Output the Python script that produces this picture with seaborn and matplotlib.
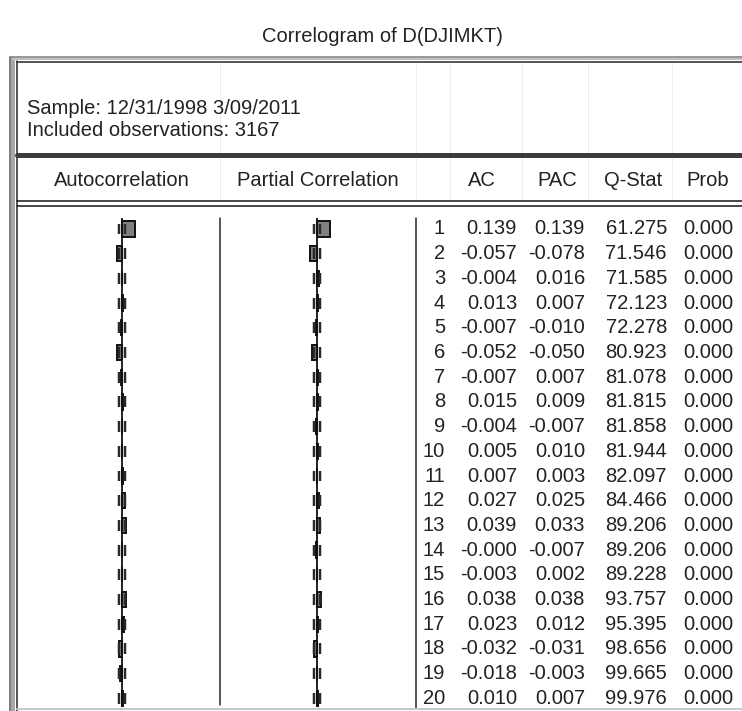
import matplotlib
matplotlib.use("Agg")
import matplotlib.pyplot as plt
import seaborn as sns
import pandas as pd
import numpy as np

# --- correlogram values ---
lags = list(range(1, 21))
ac = [0.139, -0.057, -0.004, 0.013, -0.007, -0.052, -0.007, 0.015, -0.004, 0.005,
      0.007, 0.027, 0.039, -0.000, -0.003, 0.038, 0.023, -0.032, -0.018, 0.010]
pac = [0.139, -0.078, 0.016, 0.007, -0.010, -0.050, 0.007, 0.009, -0.007, 0.010,
       0.003, 0.025, 0.033, -0.007, 0.002, 0.038, 0.012, -0.031, -0.003, 0.007]
q_stat = [61.275, 71.546, 71.585, 72.123, 72.278, 80.923, 81.078, 81.815, 81.858, 81.944,
          82.097, 84.466, 89.206, 89.206, 89.228, 93.757, 95.395, 98.656, 99.665, 99.976]
prob = [0.000, 0.000, 0.000, 0.000, 0.000, 0.000, 0.000, 0.000, 0.000, 0.000,
        0.000, 0.000, 0.000, 0.000, 0.000, 0.000, 0.000, 0.000, 0.000, 0.000]
n_obs = 3167
title = "Correlogram of D(DJIMKT)"
sample_line = "Sample: 12/31/1998 3/09/2011"
obs_line = f"Included observations: {n_obs}"
headers = ["Autocorrelation", "Partial Correlation", "AC", "PAC", "Q-Stat", "Prob"]

df = pd.DataFrame({"lag": [str(l) for l in lags], "ac": ac, "pac": pac})
order = df["lag"].tolist()
se2 = 2 / np.sqrt(n_obs)

sns.set_theme(style="white")
plt.rcParams['font.family'] = ['Liberation Sans', 'DejaVu Sans']
FS = 14.5
TXT = "#222222"

W, H = 742, 711
fig = plt.figure(figsize=(W / 100, H / 100), dpi=100)


def px_axes(x0, y0, x1, y1):
    ax = fig.add_axes([x0 / W, 1 - y1 / H, (x1 - x0) / W, (y1 - y0) / H])
    ax.set_facecolor("none")
    return ax


# --- frame / layout in pixel space ---
bg = px_axes(0, 0, W, H)
bg.set_xlim(0, W)
bg.set_ylim(H, 0)
bg.axis("off")

px = 0.72  # one pixel in points
# faint header cell lines
for x in [220, 416, 450, 522, 588, 672]:
    bg.plot([x, x], [61, 201], color="#ececec", lw=1 * px, zorder=1)
# outer bevelled frame
bg.plot([10, 10], [57, H], color="#555555", lw=1.5 * px, zorder=2)
bg.plot([13, 13], [59, H], color="#a8a8a8", lw=4 * px, zorder=2)
bg.plot([16.5, 16.5], [61, H], color="#222222", lw=1.5 * px, zorder=2)
bg.plot([10, W], [57, 57], color="#777777", lw=1.5 * px, zorder=2)
bg.plot([13, W], [59, 59], color="#c0c0c0", lw=2 * px, zorder=2)
bg.plot([16.5, W], [61.5, 61.5], color="#222222", lw=1.5 * px, zorder=2)
# thick rule under the sample info
bg.plot([16.5, W], [155, 155], color="#3c3c3c", lw=5 * px, zorder=2)
# double rule under column headers
bg.plot([16.5, W], [201, 201], color="#111111", lw=1.5 * px, zorder=2)
bg.plot([16.5, W], [205.5, 205.5], color="#111111", lw=1.5 * px, zorder=2)
# body separators
bg.plot([220, 220], [218, 705], color="#222222", lw=1.5 * px, zorder=2)
bg.plot([416, 416], [218, 708], color="#222222", lw=1.5 * px, zorder=2)
# bottom edge
bg.plot([16.5, W], [709, 709], color="#c8c8c8", lw=2 * px, zorder=2)

# --- texts ---
bg.text(382, 37, title, ha="center", va="center", fontsize=FS, color=TXT)
bg.text(27, 108, sample_line, ha="left", va="center", fontsize=FS, color=TXT)
bg.text(27, 130, obs_line, ha="left", va="center", fontsize=FS, color=TXT)
for label, x in zip(headers, [122, 318, 482, 557, 633, 708]):
    bg.text(x, 181, label, ha="center", va="center", fontsize=FS, color=TXT)

# --- row geometry ---
row0, step = 229, 24.7
top = row0 - step / 2
bottom = row0 + (len(lags) - 0.5) * step
idx = np.arange(len(lags))

# --- bar panels (AC and PAC) ---
for col, center in [("ac", 122), ("pac", 317)]:
    ax = px_axes(center - 95, top, center + 95, bottom)
    sns.barplot(data=df, x=col, y="lag", order=order, orient="h", color="#808080",
                saturation=1, edgecolor="#111111", linewidth=1.4, width=0.62, ax=ax)
    ax.vlines(0, -0.45, len(lags) - 0.73, color="#111111", lw=1.8 * px, zorder=4)
    ax.vlines(np.full(len(lags), -se2), idx - 0.22, idx + 0.22, color="#2a2a2a", lw=2.5 * px, zorder=3)
    ax.vlines(np.full(len(lags), se2), idx - 0.22, idx + 0.22, color="#2a2a2a", lw=2.5 * px, zorder=3)
    ax.set_xlim(-1, 1)
    ax.set_ylim(len(lags) - 0.5, -0.5)
    ax.axis("off")

# --- numeric table ---
tab = px_axes(416, top, W, bottom)
tab.set_xlim(416, W)
tab.set_ylim(len(lags) - 0.5, -0.5)
tab.axis("off")
for i in idx:
    tab.text(445, i, str(lags[i]), ha="right", va="center", fontsize=FS, color=TXT)
    tab.text(517, i, f"{ac[i]:.3f}", ha="right", va="center", fontsize=FS, color=TXT)
    tab.text(585, i, f"{pac[i]:.3f}", ha="right", va="center", fontsize=FS, color=TXT)
    tab.text(667, i, f"{q_stat[i]:.3f}", ha="right", va="center", fontsize=FS, color=TXT)
    tab.text(733, i, f"{prob[i]:.3f}", ha="right", va="center", fontsize=FS, color=TXT)

fig.savefig("out.png", dpi=100, facecolor="white")
